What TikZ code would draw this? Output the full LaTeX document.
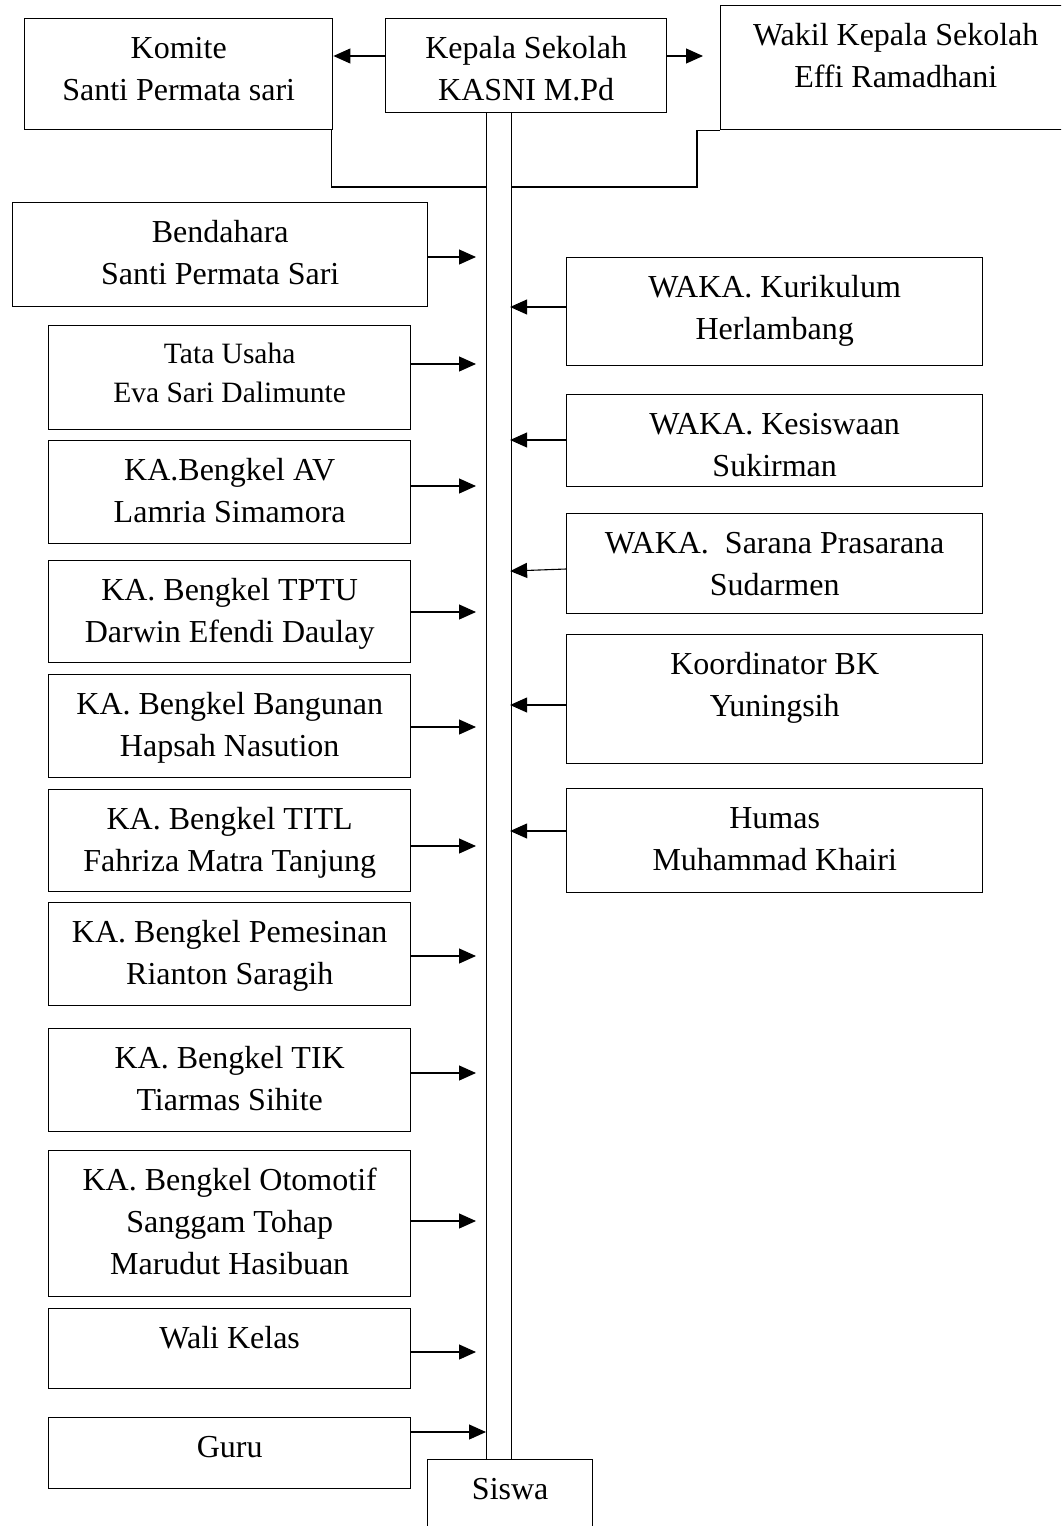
\documentclass[tikz,border=0pt]{standalone}
\usepackage{fontspec}
\setmainfont{Liberation Serif}
\usetikzlibrary{arrows.meta}
\def\kotak[#1](#2)(#3,#4)(#5,#6)#7{%
  \node[kotak, minimum width={#5-#3}, minimum height={#6-#4}, anchor=north west] (#2) at (#3,#4) {};
  \node[#1, anchor=north] (#2-t) at ([yshift=-10.5pt]#2.north) {\strut #7};}

\begin{document}
\begin{tikzpicture}[x=1pt, y=-1pt,
    kotak/.style={draw, line width=1.4pt, inner sep=0pt},
    teks/.style={inner sep=0pt, align=center, font=\fontsize{32}{42}\selectfont},
    tekskecil/.style={inner sep=0pt, align=center, font=\fontsize{29.5}{39}\selectfont},
    garis/.style={line width=1.1pt},
    panah/.style={line width=1.1pt, -{Triangle[length=17pt, width=15pt]}}]
			%%%%% START %%%%%
			\useasboundingbox (0,0) rectangle (1061,1526);
			\clip (0,0) rectangle (1061,1526);
			
			\node[draw, garis, inner sep=0pt, minimum width=25, minimum height=1347, anchor=north west] (batang) at (486,112) {};
			
			\kotak[teks](komite)(24,18)(332,129){Komite\\Santi Permata sari}
			\kotak[teks](kepsek)(385,18)(666,112){Kepala Sekolah\\KASNI M.Pd}
			\kotak[teks](wakil)(720,5)(1070,129){Wakil Kepala Sekolah\\Effi Ramadhani}
			
			\kotak[teks](bendahara)(12,202)(427,306){Bendahara\\Santi Permata Sari}
			\kotak[tekskecil](tu)(48,325)(410,429){Tata Usaha\\Eva Sari Dalimunte}
			\kotak[teks](av)(48,440)(410,543){KA.Bengkel AV\\Lamria Simamora}
			\kotak[teks](tptu)(48,560)(410,662){KA. Bengkel TPTU\\Darwin Efendi Daulay}
			\kotak[teks](bangunan)(48,674)(410,777){KA. Bengkel Bangunan\\Hapsah Nasution}
			\kotak[teks](titl)(48,789)(410,891){KA. Bengkel TITL\\Fahriza Matra Tanjung}
			\kotak[teks](pemesinan)(48,902)(410,1005){KA. Bengkel Pemesinan\\Rianton Saragih}
			\kotak[teks](tik)(48,1028)(410,1131){KA. Bengkel TIK\\Tiarmas Sihite}
			\kotak[teks](otomotif)(48,1150)(410,1296){KA. Bengkel Otomotif\\Sanggam Tohap\\Marudut Hasibuan}
			\kotak[teks](wali)(48,1308)(410,1388){Wali Kelas}
			\kotak[teks](guru)(48,1417)(410,1488){Guru}
			
			\kotak[teks](kurikulum)(566,257)(982,365){WAKA. Kurikulum\\Herlambang}
			\kotak[teks](kesiswaan)(566,394)(982,486){WAKA. Kesiswaan\\Sukirman}
			\kotak[teks](sarana)(566,513)(982,613){WAKA.\ \ Sarana Prasarana\\Sudarmen}
			\kotak[teks](bk)(566,634)(982,763){Koordinator BK\\Yuningsih}
			\kotak[teks](humas)(566,788)(982,892){Humas\\Muhammad Khairi}
			
			\kotak[teks](siswa)(427,1459)(592,1545){Siswa}
			
			% atas
			\draw[panah] (kepsek.west |- 0,56) -- (komite.east |- 0,56);
			\draw[panah, shorten >=17pt] (kepsek.east |- 0,56) -- (wakil.west |- 0,56);
			\draw[garis] ([xshift=-2pt]komite.south east) |- (batang.west |- 0,187);
			\draw[garis] (batang.east |- 0,187) -| ([xshift=-23pt]wakil.south west) -- (wakil.south west);
			
			% kiri
			\draw[panah, shorten >=10pt] (bendahara.east |- 0,257) -- (batang.west |- 0,257);
			\draw[panah, shorten >=10pt] (tu.east |- 0,364) -- (batang.west |- 0,364);
			\draw[panah, shorten >=10pt] (av.east |- 0,486) -- (batang.west |- 0,486);
			\draw[panah, shorten >=10pt] (tptu.east |- 0,612) -- (batang.west |- 0,612);
			\draw[panah, shorten >=10pt] (bangunan.east |- 0,727) -- (batang.west |- 0,727);
			\draw[panah, shorten >=10pt] (titl.east |- 0,846) -- (batang.west |- 0,846);
			\draw[panah, shorten >=10pt] (pemesinan.east |- 0,956) -- (batang.west |- 0,956);
			\draw[panah, shorten >=10pt] (tik.east |- 0,1073) -- (batang.west |- 0,1073);
			\draw[panah, shorten >=10pt] (otomotif.east |- 0,1221) -- (batang.west |- 0,1221);
			\draw[panah, shorten >=10pt] (wali.east |- 0,1352) -- (batang.west |- 0,1352);
			\draw[panah] (guru.east |- 0,1432) -- (batang.west |- 0,1432);
			
			% kanan
			\draw[panah, shorten >=-2pt] (kurikulum.west |- 0,307) -- (batang.east |- 0,307);
			\draw[panah, shorten >=-2pt] (kesiswaan.west |- 0,440) -- (batang.east |- 0,440);
			\draw[panah, shorten >=-2pt] (sarana.west |- 0,569) -- (batang.east |- 0,571);
			\draw[panah, shorten >=-2pt] (bk.west |- 0,705) -- (batang.east |- 0,705);
			\draw[panah, shorten >=-2pt] (humas.west |- 0,831) -- (batang.east |- 0,831);
			
			%%%%% END %%%%%
		\end{tikzpicture}
\end{document}
